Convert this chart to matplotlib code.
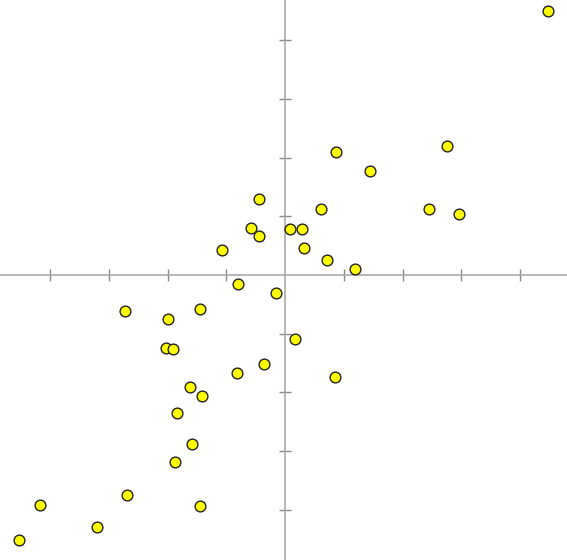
import numpy as np
import matplotlib.pyplot as plt

# scatter values
x = [4.48, 0.87, 2.76, 1.45, -0.44, 0.61, 2.45, 2.96, -0.58, -0.44,
     0.09, 0.29, -1.07, 0.32, 0.72, 1.19, -0.80, -0.15, -2.73, -1.45,
     -1.99, -2.03, -1.91, 0.17, -0.36, -0.82, 0.85, -1.62, -1.41, -1.84,
     -1.58, -1.87, -2.69, -4.17, -1.45, -3.20, -4.53]
y = [4.50, 2.10, 2.20, 1.77, 1.29, 1.12, 1.12, 1.04, 0.80, 0.66,
     0.78, 0.78, 0.43, 0.46, 0.26, 0.10, -0.15, -0.31, -0.61, -0.58,
     -0.75, -1.24, -1.26, -1.09, -1.52, -1.67, -1.74, -1.91, -2.06, -2.35,
     -2.88, -3.19, -3.75, -3.92, -3.94, -4.29, -4.51]
ticks = [-4, -3, -2, -1, 1, 2, 3, 4]

fig = plt.figure(figsize=(5.67, 5.6), dpi=100)
ax = fig.add_axes([0, 0, 1, 1])

ax.scatter(x, y, s=60, c='#ffff00', edgecolors='#222222', linewidths=1, zorder=3)

ax.set_xlim(-4.855, 4.80)
ax.set_ylim(-4.855, 4.685)

for side in ['top', 'right']:
    ax.spines[side].set_visible(False)
for side in ['left', 'bottom']:
    ax.spines[side].set_position(('data', 0))
    ax.spines[side].set_color('#aaaaaa')
    ax.spines[side].set_linewidth(1.2)

ax.set_xticks(ticks)
ax.set_yticks(ticks)
ax.set_xticklabels([])
ax.set_yticklabels([])
ax.tick_params(direction='inout', length=8, width=1, color='#888888')

fig.savefig('out.png', dpi=100)
